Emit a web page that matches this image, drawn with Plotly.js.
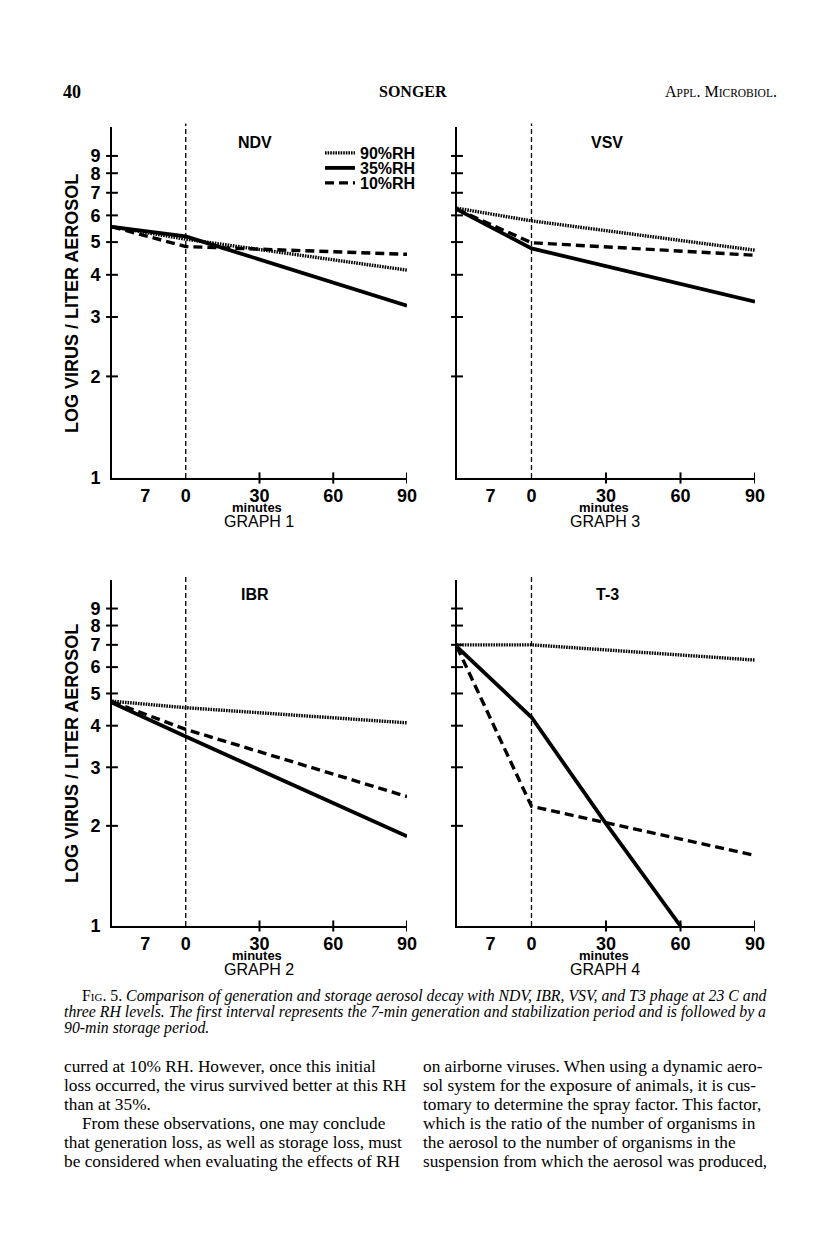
<!DOCTYPE html>
<html>
<head>
<meta charset="utf-8">
<script src="https://cdn.plot.ly/plotly-3.0.1.min.js"></script>
<style>html,body{margin:0;padding:0;background:#fff;}#chart{width:816px;height:1245px;}</style>
</head>
<body>
<div id="chart"></div>
<script>
// ---------- data ----------
// time points: "gen" = start of the 7-min generation/stabilization period,
// then storage minutes 0 and 90 (T-3 35%RH also read at 30 and 60)
const panels = ["NDV", "VSV", "IBR", "T-3"];
const graphNames = ["GRAPH 1", "GRAPH 3", "GRAPH 2", "GRAPH 4"];
const seriesNames = ["90%RH", "35%RH", "10%RH"];

const ndvTimes = ["gen", 0, 90];
const ndv90 = [5.55, 5.1, 4.13];
const ndv35 = [5.55, 5.2, 3.24];
const ndv10 = [5.55, 4.85, 4.6];

const vsvTimes = ["gen", 0, 90];
const vsv90 = [6.3, 5.78, 4.73];
const vsv35 = [6.25, 4.79, 3.33];
const vsv10 = [6.25, 4.98, 4.57];

const ibrTimes = ["gen", 0, 90];
const ibr90 = [4.74, 4.53, 4.08];
const ibr35 = [4.69, 3.71, 1.86];
const ibr10 = [4.72, 3.9, 2.45];

const t3Times90 = ["gen", 0, 90];
const t3_90 = [7.0, 7.0, 6.3];
const t3Times35 = ["gen", 0, 30, 60];
const t3_35 = [6.9, 4.24, 2.03, 1.0];
const t3Times10 = ["gen", 0, 90];
const t3_10 = [6.9, 2.29, 1.63];

const xTickText = ["7", "0", "30", "60", "90"];
const xTickMinutes = ["gen", 0, 30, 60, 90];
const xMajorTicks = [30, 60, 90];
const yTickText = ["1", "2", "3", "4", "5", "6", "7", "8", "9"];
const yTickVals = [1, 2, 3, 4, 5, 6, 7, 8, 9];

// ---------- layout settings ----------
const GEN_WIDTH = 30; // generation interval drawn with the width of 30 storage minutes
function tpos(t) { return t === "gen" ? -GEN_WIDTH : t; }
function genLabelPos(t) { return t === "gen" ? -GEN_WIDTH / 2 - 1.5 : t; }

const W = 816, H = 1245;
const colX = [[112, 407], [457, 755]];
const rowY = [[127, 478], [580, 926]];
const grid = [[0, 0], [1, 0], [0, 1], [1, 1]];
const Y_RANGE = [0, 1.04];

const sans = "Liberation Sans, Arial, sans-serif";
const serif = "Liberation Serif, Times New Roman, serif";

const styles = [
  { dash: "1.6px,1px", width: 3.4 },
  { dash: "solid", width: 3.8 },
  { dash: "9px,5px", width: 3.4 }
];
const legendRowsY = [153, 168, 183];

const seriesData = [
  [[ndvTimes, ndv90], [ndvTimes, ndv35], [ndvTimes, ndv10]],
  [[vsvTimes, vsv90], [vsvTimes, vsv35], [vsvTimes, vsv10]],
  [[ibrTimes, ibr90], [ibrTimes, ibr35], [ibrTimes, ibr10]],
  [[t3Times90, t3_90], [t3Times35, t3_35], [t3Times10, t3_10]]
];

const traces = [];
const layout = {
  width: W, height: H,
  margin: { l: 0, r: 0, t: 0, b: 0 },
  paper_bgcolor: "#fff", plot_bgcolor: "rgba(0,0,0,0)",
  showlegend: true,
  shapes: [], annotations: []
};
// one small legend per RH level so rows can sit close together
seriesNames.forEach((s, k) => {
  const key = k === 0 ? "legend" : "legend" + (k + 1);
  layout[key] = {
    x: 320 / W, y: 1 - legendRowsY[k] / H, xanchor: "left", yanchor: "middle",
    bgcolor: "rgba(0,0,0,0)", borderwidth: 0,
    font: { family: sans, size: 16, color: "#000", weight: "bold" },
    itemwidth: 30
  };
});

panels.forEach((name, i) => {
  const [c, r] = grid[i];
  const n = i + 1;
  const xs = n === 1 ? "" : String(n);
  const xd = [colX[c][0] / W, colX[c][1] / W];
  const yd = [1 - rowY[r][1] / H, 1 - rowY[r][0] / H];
  const left = c === 0;

  layout["xaxis" + xs] = {
    domain: xd, range: [-GEN_WIDTH, 90], anchor: "y" + xs,
    showline: true, linewidth: 2, linecolor: "#000",
    ticks: "", tickvals: xTickMinutes.map(genLabelPos), ticktext: xTickText,
    tickfont: { family: sans, size: 18, color: "#000", weight: "bold" },
    showgrid: false, zeroline: false, fixedrange: true
  };
  layout["yaxis" + xs] = {
    domain: yd, type: "log", range: Y_RANGE, anchor: "x" + xs,
    showline: true, linewidth: 2, linecolor: "#000",
    ticks: "", tickvals: yTickVals, ticktext: yTickText, showticklabels: left,
    ticklabelstandoff: 6,
    tickfont: { family: sans, size: 18, color: "#000", weight: "bold" },
    showgrid: false, zeroline: false, fixedrange: true
  };

  // tick marks crossing the axes
  xMajorTicks.forEach(v => layout.shapes.push({
    type: "line", xref: "x" + xs, yref: "y" + xs + " domain",
    x0: v, x1: v, y0: -0.016, y1: 0.016, line: { color: "#000", width: 2 }
  }));
  yTickVals.slice(1).forEach(v => layout.shapes.push({
    type: "line", xref: "x" + xs + " domain", yref: "y" + xs,
    x0: -0.02, x1: 0.02, y0: v, y1: v, line: { color: "#000", width: 2 }
  }));

  // vertical dashed line at storage time 0
  layout.shapes.push({
    type: "line", xref: "x" + xs, yref: "y" + xs + " domain",
    x0: 0, x1: 0, y0: 0, y1: 1.01,
    line: { color: "#000", width: 1.3, dash: "5px,3px" }
  });

  seriesData[i].forEach((s, k) => {
    traces.push({
      type: "scatter", mode: "lines",
      x: s[0].map(tpos), y: s[1],
      xaxis: "x" + xs, yaxis: "y" + xs,
      name: seriesNames[k],
      legend: k === 0 ? "legend" : "legend" + (k + 1),
      showlegend: i === 0,
      line: { color: "#000", width: styles[k].width, dash: styles[k].dash },
      cliponaxis: false, hoverinfo: "skip"
    });
  });

  // panel virus name
  layout.annotations.push({
    xref: "paper", yref: "paper",
    x: (left ? 255 : 607) / W, y: 1 - (r === 0 ? 142 : 594) / H,
    text: name, showarrow: false, xanchor: "center", yanchor: "middle",
    font: { family: sans, size: 16, color: "#000", weight: "bold" }
  });
  layout.annotations.push({
    xref: "paper", yref: "paper",
    x: (left ? 257 : 604) / W, y: 1 - (r === 0 ? 507 : 955) / H,
    text: "minutes", showarrow: false, xanchor: "center", yanchor: "middle",
    font: { family: sans, size: 13, color: "#000", weight: "bold" }
  });
  layout.annotations.push({
    xref: "paper", yref: "paper",
    x: (left ? 259 : 605) / W, y: 1 - (r === 0 ? 521 : 969) / H,
    text: graphNames[i], showarrow: false, xanchor: "center", yanchor: "middle",
    font: { family: sans, size: 16, color: "#000" }
  });
  if (left) {
    layout.annotations.push({
      xref: "paper", yref: "paper",
      x: 72 / W, y: 1 - (r === 0 ? 304 : 754) / H,
      text: "LOG VIRUS / LITER AEROSOL", textangle: -90, showarrow: false,
      xanchor: "center", yanchor: "middle",
      font: { family: sans, size: 18, color: "#000", weight: "bold" }
    });
  }
});

// ---------- page text ----------
function txt(text, x, y, size, opts) {
  layout.annotations.push(Object.assign({
    xref: "paper", yref: "paper", x: x / W, y: 1 - y / H, text: text,
    showarrow: false, xanchor: "left", yanchor: "middle",
    font: { family: serif, size: size, color: "#000" }
  }, opts || {}));
}
txt("<b>40</b>", 61, 92, 18);
txt("<b>SONGER</b>", 413, 92, 16, { xanchor: "center" });
txt("A<span style='font-size:11.5px'>PPL</span>. M<span style='font-size:11.5px'>ICROBIOL</span>.", 779, 92, 16, { xanchor: "right" });

const captionLines = [
  "F<span style='font-size:11px'>IG</span>. 5. <i>Comparison of generation and storage aerosol decay with NDV, IBR, VSV, and T3 phage at 23 C and</i>",
  "<i>three RH levels. The first interval represents the 7-min generation and stabilization period and is followed by a</i>",
  "<i>90-min storage period.</i>"
];
txt(captionLines[0], 80, 996, 15.8);
txt(captionLines[1], 62, 1012, 15.8);
txt(captionLines[2], 62, 1028, 15.8);

const leftCol = [
  "curred at 10% RH. However, once this initial",
  "loss occurred, the virus survived better at this RH",
  "than at 35%.",
  "From these observations, one may conclude",
  "that generation loss, as well as storage loss, must",
  "be considered when evaluating the effects of RH"
];
const rightCol = [
  "on airborne viruses. When using a dynamic aero-",
  "sol system for the exposure of animals, it is cus-",
  "tomary to determine the spray factor. This factor,",
  "which is the ratio of the number of organisms in",
  "the aerosol to the number of organisms in the",
  "suspension from which the aerosol was produced,"
];
const bodyY = [1066, 1085, 1104, 1123, 1142, 1161];
leftCol.forEach((l, j) => txt(l, j === 3 ? 80 : 62, bodyY[j], 17.3));
rightCol.forEach((l, j) => txt(l, 421, bodyY[j], 17.3));

Plotly.newPlot("chart", traces, layout, { staticPlot: true, displayModeBar: false });
</script>
</body>
</html>
